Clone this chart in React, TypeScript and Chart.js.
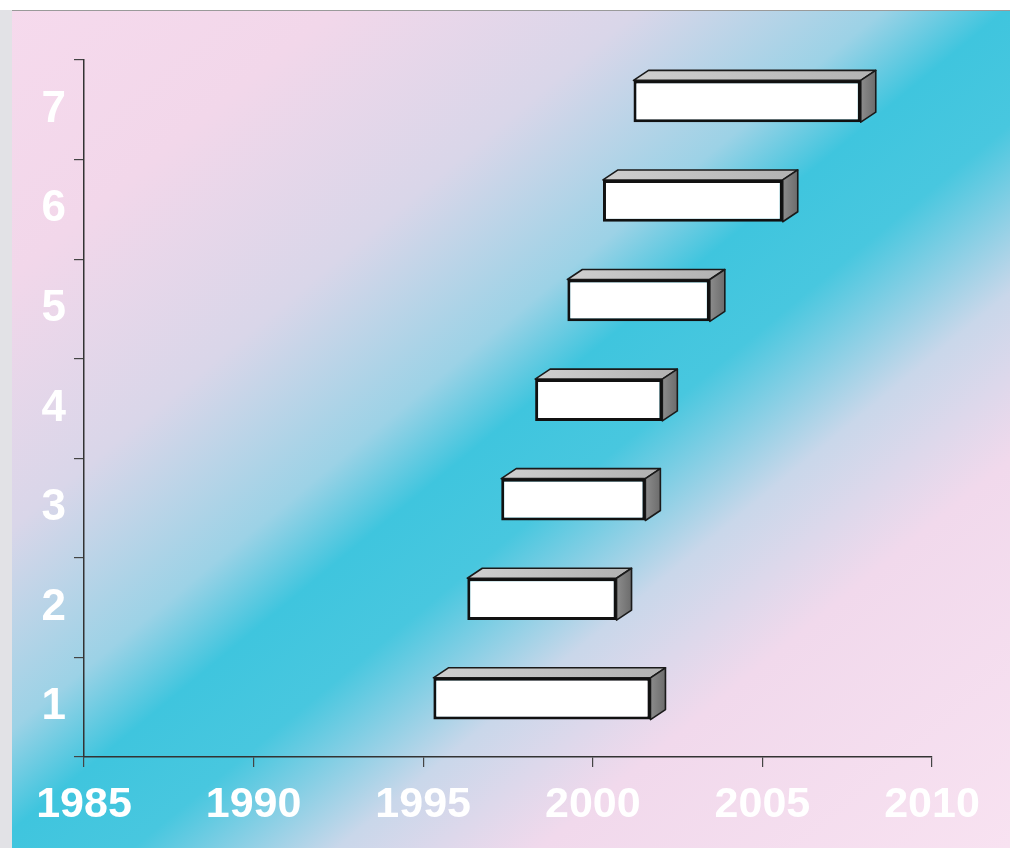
import React, { useEffect, useRef } from "react";
import { Chart, registerables } from "chart.js";

Chart.register(...registerables);

// Rows, bottom to top
const categories = ["1", "2", "3", "4", "5", "6", "7"];
// Start and end year of each bar
const startYears = [1995.3, 1996.3, 1997.3, 1998.3, 1999.25, 2000.3, 2001.2];
const endYears = [2001.7, 2000.7, 2001.55, 2002.05, 2003.45, 2005.6, 2007.9];
// Year axis
const yearMin = 1985;
const yearMax = 2010;
const yearStep = 5;

const DEPTH_X = 15;
const DEPTH_Y = 10;
const BAR_SHIFT = -8.5;

const backgroundPlugin = {
  id: "paperBackground",
  beforeDraw(chart: any) {
    const { ctx, width, height } = chart;
    ctx.save();
    const g = ctx.createLinearGradient(98, -81, 923, 919);
    g.addColorStop(0, "#f6daed");
    g.addColorStop(0.17, "#f2d7ea");
    g.addColorStop(0.32, "#d9d6e9");
    g.addColorStop(0.44, "#9cd2e6");
    g.addColorStop(0.5, "#3fc5de");
    g.addColorStop(0.57, "#48c7df");
    g.addColorStop(0.67, "#c9d7ea");
    g.addColorStop(0.77, "#f1d9ec");
    g.addColorStop(1, "#f8e2f1");
    ctx.fillStyle = g;
    ctx.fillRect(0, 0, width, height);
    // paper edge
    ctx.fillStyle = "#ffffff";
    ctx.fillRect(0, 0, width, 10);
    ctx.fillStyle = "#e2e2e6";
    ctx.fillRect(0, 10, 12, height - 10);
    ctx.fillStyle = "#9a9a9a";
    ctx.fillRect(12, 10, width - 12, 1);
    ctx.restore();
  },
};

// Draws the top and right faces of each bar, and shifts the bars up a little
const boxPlugin = {
  id: "boxFaces",
  beforeDatasetsDraw(chart: any) {
    const { ctx } = chart;
    ctx.save();
    ctx.translate(0, BAR_SHIFT);
    const meta = chart.getDatasetMeta(0);
    meta.data.forEach((bar: any) => {
      const p = bar.getProps(["x", "y", "base", "height"], true);
      const left = Math.min(p.x, p.base);
      const right = Math.max(p.x, p.base);
      const top = p.y - p.height / 2;
      const bottom = p.y + p.height / 2;

      // top face
      const tg = ctx.createLinearGradient(left, 0, right, 0);
      tg.addColorStop(0, "#cfcfcf");
      tg.addColorStop(1, "#b4b4b4");
      ctx.beginPath();
      ctx.moveTo(left, top);
      ctx.lineTo(left + DEPTH_X, top - DEPTH_Y);
      ctx.lineTo(right + DEPTH_X, top - DEPTH_Y);
      ctx.lineTo(right, top);
      ctx.closePath();
      ctx.fillStyle = tg;
      ctx.fill();
      ctx.lineWidth = 1.6;
      ctx.strokeStyle = "#1a1a1a";
      ctx.lineJoin = "round";
      ctx.stroke();

      // right face
      const sg = ctx.createLinearGradient(right, 0, right + DEPTH_X, 0);
      sg.addColorStop(0, "#8c8c8c");
      sg.addColorStop(1, "#6c6c6c");
      ctx.beginPath();
      ctx.moveTo(right, top);
      ctx.lineTo(right + DEPTH_X, top - DEPTH_Y);
      ctx.lineTo(right + DEPTH_X, bottom - DEPTH_Y);
      ctx.lineTo(right, bottom);
      ctx.closePath();
      ctx.fillStyle = sg;
      ctx.fill();
      ctx.stroke();
    });
  },
  afterDatasetsDraw(chart: any) {
    chart.ctx.restore();
  },
};

export default function App() {
  const canvasRef = useRef<HTMLCanvasElement | null>(null);

  useEffect(() => {
    if (!canvasRef.current) return;
    const chart = new Chart(canvasRef.current, {
      type: "bar",
      data: {
        labels: categories,
        datasets: [
          {
            data: startYears.map((s, i) => [s, endYears[i]]),
            backgroundColor: "#ffffff",
            borderColor: "#111111",
            borderWidth: 3,
            borderSkipped: false,
            categoryPercentage: 1,
            barPercentage: 0.42,
          },
        ],
      },
      options: {
        indexAxis: "y",
        animation: false,
        responsive: false,
        events: [],
        layout: { padding: { top: 60, right: 78, left: 0, bottom: 0 } },
        plugins: {
          legend: { display: false },
          tooltip: { enabled: false },
        },
        scales: {
          x: {
            type: "linear",
            min: yearMin,
            max: yearMax,
            afterFit: (scale: any) => {
              scale.height = 91;
            },
            ticks: {
              stepSize: yearStep,
              color: "#ffffff",
              padding: 12,
              font: { family: "'Liberation Sans', Arial, sans-serif", size: 43, weight: "bold" },
              callback: (v: any) => String(v),
            },
            grid: {
              drawOnChartArea: false,
              drawTicks: true,
              tickLength: 10,
              color: "#444444",
              lineWidth: 1.2,
            },
            border: { display: true, color: "#333333", width: 1.5 },
          },
          y: {
            type: "category",
            reverse: true,
            afterFit: (scale: any) => {
              scale.width = 84;
            },
            ticks: {
              color: "#ffffff",
              padding: 8,
              font: { family: "'Liberation Sans', Arial, sans-serif", size: 44, weight: "bold" },
            },
            grid: {
              offset: true,
              drawOnChartArea: false,
              drawTicks: true,
              tickLength: 10,
              color: "#444444",
              lineWidth: 1.2,
            },
            border: { display: true, color: "#333333", width: 1.5 },
          },
        },
      },
      plugins: [backgroundPlugin, boxPlugin],
    });
    return () => chart.destroy();
  }, []);

  return (
    <div style={{ position: "fixed", left: 0, top: 0, width: 1010, height: 848 }}>
      <canvas ref={canvasRef} width={1010} height={848} />
    </div>
  );
}
